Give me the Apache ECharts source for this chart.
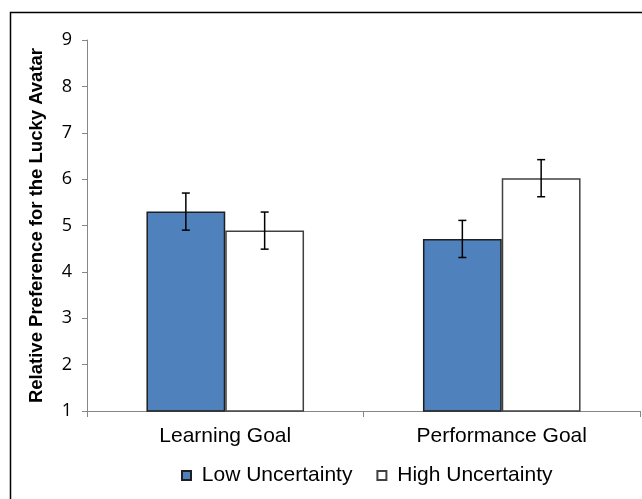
<!DOCTYPE html>
<html>
<head>
<meta charset="utf-8">
<script src="https://cdn.jsdelivr.net/npm/echarts@6/dist/echarts.min.js"></script>
<style>html,body{margin:0;padding:0;background:#fff}#c{width:642px;height:499px}</style>
</head>
<body>
<div id="c"></div>
<script>
const categories = ['Learning Goal', 'Performance Goal'];
const seriesNames = ['Low Uncertainty', 'High Uncertainty'];
const lowUncertainty = [5.30, 4.71];
const highUncertainty = [4.89, 6.02];
const lowErr = [0.40, 0.40];
const highErr = [0.40, 0.40];
const yTicks = [1, 9, 1]; // min, max, interval

const catGap = 0.43;

function errData(vals, errs) {
  return vals.map((v, i) => [i, v - errs[i], v + errs[i]]);
}

function errRender(side) {
  return function (params, api) {
    const idx = api.value(0);
    const lo = api.coord([idx, api.value(1)]);
    const hi = api.coord([idx, api.value(2)]);
    const band = api.size([1, 0])[0];
    const bw = band * (1 - catGap) / 2;
    const x = lo[0] + side * bw / 2;
    const cap = 4;
    const style = { stroke: '#000', lineWidth: 1.5 };
    return {
      type: 'group',
      children: [
        { type: 'line', shape: { x1: x, y1: hi[1], x2: x, y2: lo[1] }, style },
        { type: 'line', shape: { x1: x - cap, y1: hi[1], x2: x + cap, y2: hi[1] }, style },
        { type: 'line', shape: { x1: x - cap, y1: lo[1], x2: x + cap, y2: lo[1] }, style }
      ]
    };
  };
}

const chart = echarts.init(document.getElementById('c'));
chart.setOption({
  animation: false,
  backgroundColor: '#fff',
  graphic: [{
    type: 'rect', silent: true, z: 100,
    shape: { x: 10.5, y: 12.5, width: 700, height: 600 },
    style: { fill: 'none', stroke: '#000', lineWidth: 1.5 }
  }],
  grid: { left: 87, right: 2, top: 40, bottom: 88 },
  legend: {
    data: seriesNames,
    top: 460,
    left: 176,
    icon: 'rect',
    itemWidth: 9,
    itemHeight: 9,
    itemGap: 24,
    formatter: ' {name}',
    textStyle: { fontFamily: 'Liberation Sans', fontSize: 21, color: '#000' }
  },
  xAxis: {
    type: 'category',
    data: categories,
    axisLine: { lineStyle: { color: '#868686', width: 1 } },
    axisTick: { show: true, length: 6, lineStyle: { color: '#868686' } },
    axisLabel: { fontFamily: 'Liberation Sans', fontSize: 21, color: '#000', margin: 15 }
  },
  yAxis: {
    type: 'value',
    min: yTicks[0], max: yTicks[1], interval: yTicks[2],
    name: 'Relative Preference for the Lucky Avatar',
    nameLocation: 'middle',
    nameGap: 41,
    nameRotate: 90,
    nameTextStyle: { fontFamily: 'Liberation Sans', fontWeight: 'bold', fontSize: 18.5, color: '#000' },
    splitLine: { show: false },
    axisLine: { show: true, lineStyle: { color: '#868686', width: 1 } },
    axisTick: { show: true, length: 5, lineStyle: { color: '#868686' } },
    axisLabel: { fontFamily: 'Open Sans', fontSize: 18, color: '#000', margin: 15 }
  },
  series: [
    {
      name: seriesNames[0], type: 'bar', data: lowUncertainty,
      barGap: '0%', barCategoryGap: '43%',
      itemStyle: { color: '#4F81BD', borderColor: '#1f1f1f', borderWidth: 1.5 }
    },
    {
      name: seriesNames[1], type: 'bar', data: highUncertainty,
      barGap: '0%', barCategoryGap: '43%',
      itemStyle: { color: '#fff', borderColor: '#404040', borderWidth: 1.5 }
    },
    {
      type: 'custom', renderItem: errRender(-1), data: errData(lowUncertainty, lowErr), z: 10
    },
    {
      type: 'custom', renderItem: errRender(1), data: errData(highUncertainty, highErr), z: 10
    }
  ]
});
</script>
</body>
</html>
